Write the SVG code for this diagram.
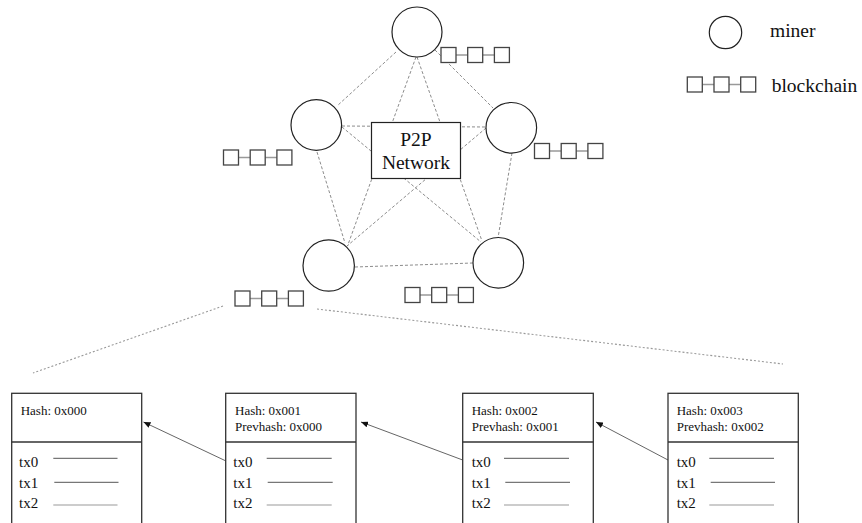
<svg xmlns="http://www.w3.org/2000/svg" xmlns:xlink="http://www.w3.org/1999/xlink" width="862" height="523" viewBox="0 0 862 523">
<style>
  .bg { fill: #ffffff; }
  .miner { fill: #ffffff; stroke: #222222; stroke-width: 1.2; }
  .net { stroke: #8c8c8c; stroke-width: 1; stroke-dasharray: 3 2; fill: none; }
  .zoomline { stroke: #999999; stroke-width: 1.1; stroke-dasharray: 2 2; fill: none; }
  .box { fill: #ffffff; stroke: #222222; stroke-width: 1.2; }
  .sq { fill: #ffffff; stroke: #444444; stroke-width: 1.3; }
  .link { stroke: #999999; stroke-width: 1.5; }
  .big { font-family: "Liberation Serif", "Times New Roman", serif; font-size: 19.5px; fill: #111111; }
  .hash { font-family: "Liberation Serif", "Times New Roman", serif; font-size: 13px; fill: #111111; }
  .tx { font-family: "Liberation Serif", "Times New Roman", serif; font-size: 15px; fill: #111111; }
  .block { fill: #ffffff; stroke: #333333; stroke-width: 1.3; }
  .txline { stroke: #555555; stroke-width: 1; }
  .txline2 { stroke: #999999; stroke-width: 1; }
  .arrow { stroke: #666666; stroke-width: 1; fill: none; }
</style>
<defs>
  <g id="chain">
    <line class="link" x1="15" y1="7.5" x2="26.7" y2="7.5"/>
    <line class="link" x1="41.7" y1="7.5" x2="53.4" y2="7.5"/>
    <rect class="sq" x="0" y="0" width="15" height="15"/>
    <rect class="sq" x="26.7" y="0" width="15" height="15"/>
    <rect class="sq" x="53.4" y="0" width="15" height="15"/>
  </g>
  <marker id="ah" markerWidth="8" markerHeight="6" refX="7" refY="3" orient="auto" markerUnits="userSpaceOnUse">
    <path d="M0,0 L7,3 L0,6 Z" fill="#111111"/>
  </marker>
</defs>
<rect class="bg" x="0" y="0" width="862" height="523"/>

<g id="connectors">
  <line class="net" x1="396" y1="52" x2="337" y2="106"/>
  <line class="net" x1="435" y1="50" x2="493" y2="108"/>
  <line class="net" x1="416" y1="57" x2="347.5" y2="246"/>
  <line class="net" x1="417" y1="57" x2="482" y2="241"/>
  <line class="net" x1="342" y1="126" x2="486" y2="127"/>
  <line class="net" x1="317" y1="152" x2="345" y2="243"/>
  <line class="net" x1="342" y1="127" x2="481" y2="242"/>
  <line class="net" x1="486" y1="128" x2="347" y2="246"/>
  <line class="net" x1="512" y1="153" x2="498" y2="238"/>
  <line class="net" x1="355" y1="267" x2="473" y2="263"/>
  <line class="zoomline" x1="223" y1="306" x2="33" y2="373"/>
  <line class="zoomline" x1="317" y1="309" x2="783" y2="364"/>
  <line class="arrow" x1="226" y1="461" x2="143.5" y2="422" marker-end="url(#ah)"/>
  <line class="arrow" x1="462.7" y1="460" x2="361" y2="422" marker-end="url(#ah)"/>
  <line class="arrow" x1="668" y1="460" x2="596" y2="422" marker-end="url(#ah)"/>
</g>

<g id="miner-top">
  <circle class="miner" cx="417" cy="32" r="25"/>
  <use xlink:href="#chain" href="#chain" x="441" y="47.5"/>
</g>
<g id="miner-left">
  <circle class="miner" cx="316.3" cy="125" r="25.3"/>
  <use xlink:href="#chain" href="#chain" x="223.5" y="150"/>
</g>
<g id="miner-right">
  <circle class="miner" cx="511.3" cy="127.8" r="25.3"/>
  <use xlink:href="#chain" href="#chain" x="534.5" y="143.5"/>
</g>
<g id="miner-bottom-left">
  <circle class="miner" cx="328.7" cy="265.5" r="25.7"/>
  <use xlink:href="#chain" href="#chain" x="235" y="291"/>
</g>
<g id="miner-bottom-right">
  <circle class="miner" cx="498.3" cy="262.8" r="25.3"/>
  <use xlink:href="#chain" href="#chain" x="405" y="287.5"/>
</g>

<g id="p2p">
  <rect class="box" x="371.5" y="122.5" width="89" height="56"/>
  <text class="big" x="416" y="145.5" text-anchor="middle" font-size="20">P2P</text>
  <text class="big" x="416" y="168.5" text-anchor="middle" font-size="20">Network</text>
</g>

<g id="legend-miner">
  <circle class="miner" cx="725.5" cy="32.5" r="16.2"/>
  <text class="big" x="770" y="37.3">miner</text>
</g>
<g id="legend-blockchain">
  <use xlink:href="#chain" href="#chain" x="687.3" y="77"/>
  <text class="big" x="771.7" y="91.7">blockchain</text>
</g>

<g id="block0">
  <rect class="block" x="11.7" y="393.3" width="130" height="145"/>
  <line class="block" x1="11.7" y1="442" x2="141.7" y2="442"/>
  <text class="hash" x="20.7" y="415">Hash: 0x000</text>
  <text class="tx" x="19" y="467">tx0</text>
  <text class="tx" x="19" y="488">tx1</text>
  <text class="tx" x="19" y="508">tx2</text>
  <line class="txline" x1="53.3" y1="458.3" x2="117.5" y2="458.3"/>
  <line class="txline" x1="54.3" y1="482.3" x2="118.5" y2="482.3"/>
  <line class="txline2" x1="53.3" y1="505" x2="117.5" y2="505"/>
</g>
<g id="block1">
  <rect class="block" x="225.7" y="393.3" width="130.3" height="145"/>
  <line class="block" x1="225.7" y1="442" x2="356" y2="442"/>
  <text class="hash" x="235" y="415">Hash: 0x001</text>
  <text class="hash" x="235" y="430.5">Prevhash: 0x000</text>
  <text class="tx" x="233.3" y="467">tx0</text>
  <text class="tx" x="233.3" y="488">tx1</text>
  <text class="tx" x="233.3" y="508">tx2</text>
  <line class="txline" x1="266.7" y1="458.3" x2="331.7" y2="458.3"/>
  <line class="txline" x1="267.7" y1="482.3" x2="332.7" y2="482.3"/>
  <line class="txline2" x1="266.7" y1="505" x2="331.7" y2="505"/>
</g>
<g id="block2">
  <rect class="block" x="462.7" y="393.3" width="130.6" height="145"/>
  <line class="block" x1="462.7" y1="442" x2="593.3" y2="442"/>
  <text class="hash" x="471.7" y="415">Hash: 0x002</text>
  <text class="hash" x="471.7" y="430.5">Prevhash: 0x001</text>
  <text class="tx" x="471.7" y="467">tx0</text>
  <text class="tx" x="471.7" y="488">tx1</text>
  <text class="tx" x="471.7" y="508">tx2</text>
  <line class="txline" x1="504" y1="458.3" x2="569" y2="458.3"/>
  <line class="txline" x1="505.3" y1="482.3" x2="570" y2="482.3"/>
  <line class="txline2" x1="504" y1="505" x2="569" y2="505"/>
</g>
<g id="block3">
  <rect class="block" x="668" y="393.3" width="130.3" height="145"/>
  <line class="block" x1="668" y1="442" x2="798.3" y2="442"/>
  <text class="hash" x="676.7" y="415">Hash: 0x003</text>
  <text class="hash" x="676.7" y="430.5">Prevhash: 0x002</text>
  <text class="tx" x="676.7" y="467">tx0</text>
  <text class="tx" x="676.7" y="488">tx1</text>
  <text class="tx" x="676.7" y="508">tx2</text>
  <line class="txline" x1="709.3" y1="458.3" x2="774" y2="458.3"/>
  <line class="txline" x1="710.7" y1="482.3" x2="775" y2="482.3"/>
  <line class="txline2" x1="709.3" y1="505" x2="774" y2="505"/>
</g>
</svg>
